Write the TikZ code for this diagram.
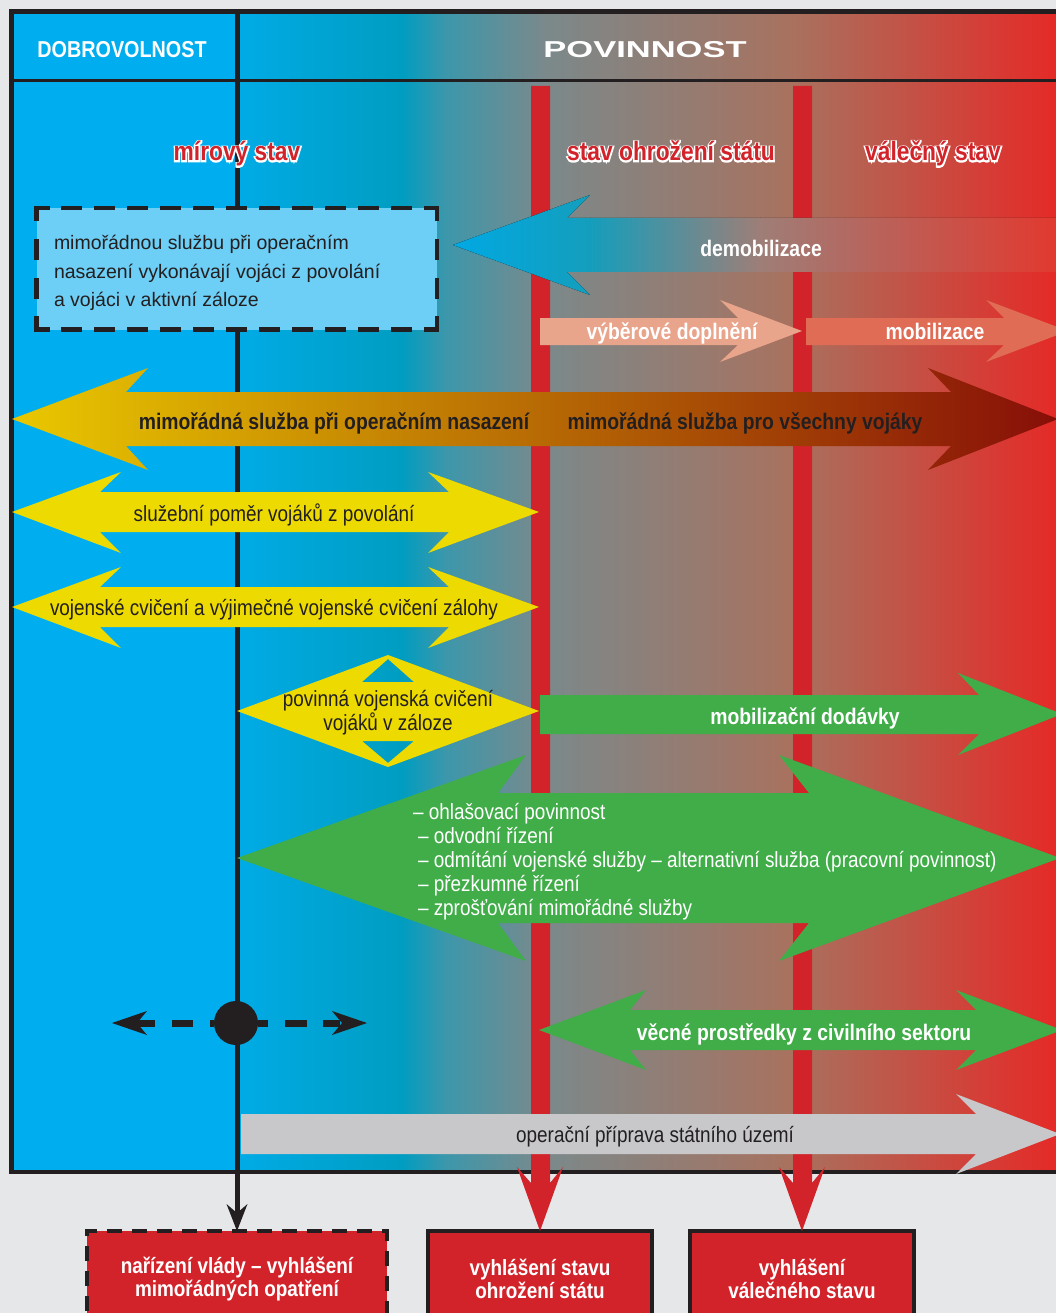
\documentclass[tikz,border=0pt]{standalone}
\usepackage{fontspec}
\setmainfont{Liberation Sans}
\newfontfamily\cond{Liberation Sans}[FakeStretch=0.86]
\newfontfamily\condol{Liberation Sans}[FakeStretch=0.86,FakeBold=11]
\newfontfamily\widef{Liberation Sans}[FakeStretch=1.5]
\definecolor{bgg}{HTML}{E6E7E8}
\definecolor{cyn}{HTML}{00AEEF}
\definecolor{g0}{HTML}{00ABE6}
\definecolor{g1}{HTML}{009DC1}
\definecolor{g2}{HTML}{3C97AB}
\definecolor{g3}{HTML}{7B898B}
\definecolor{g4}{HTML}{A8725F}
\definecolor{g5}{HTML}{E52A27}
\definecolor{d0}{HTML}{00A9E4}
\definecolor{d1}{HTML}{149EBC}
\definecolor{d2}{HTML}{9E7E77}
\definecolor{d3}{HTML}{E2392F}
\definecolor{redc}{HTML}{D2232A}
\definecolor{boxblue}{HTML}{6DCFF6}
\definecolor{yel}{HTML}{EDDA00}
\definecolor{grn}{HTML}{40AD49}
\definecolor{salm}{HTML}{E9A48C}
\definecolor{coral}{HTML}{E06C55}
\definecolor{gry}{HTML}{C8C8CA}
\definecolor{txt}{HTML}{231F20}
\definecolor{ya}{HTML}{E9C800}
\definecolor{yb}{HTML}{BA7A17}
\definecolor{yc}{HTML}{870E08}
\tikzset{
  every node/.style={inner sep=0pt, outer sep=0pt},
  tx/.style={yshift=-2pt},
  wb/.style={tx, font=\cond\bfseries\fontsize{22.5}{24}\selectfont, text=white},
  db/.style={tx, font=\cond\bfseries\fontsize{22.5}{24}\selectfont, text=txt},
  dr/.style={tx, font=\cond\fontsize{22}{24}\selectfont, text=txt},
  wr/.style={tx, font=\cond\fontsize{22}{24}\selectfont, text=white},
  wbx/.style={font=\cond\bfseries\fontsize{22}{23}\selectfont, text=white, align=center},
  labol/.style={anchor=base, font=\condol\bfseries\fontsize{26.5}{28}\selectfont, text=white},
  lab/.style={anchor=base, font=\cond\bfseries\fontsize{26.5}{28}\selectfont, text=redc},
  bbox/.style={draw=txt, line width=4.5pt, fill=redc},
  dashside/.style={draw=txt, line width=4.5pt, line cap=rect},
}
\newcommand\outl[4]{%
  \node[labol] (#1o) at (#2,#3) {#4};
  \node[lab] (#1) at (#2,#3) {#4};}
\begin{document}
\begin{tikzpicture}[x=1pt,y=-1pt]
\clip (0,0) rectangle (1056,1313);
\fill[bgg] (0,0) rectangle (1056,1313);
% background columns
\fill[cyn] (12,12) rectangle (237,1172);
\fill[left color=g0,right color=g1] (236,12) rectangle (402.5,1172);
\fill[left color=g1,right color=g2] (402,12) rectangle (445.5,1172);
\fill[left color=g2,right color=g3] (445,12) rectangle (545.5,1172);
\fill[left color=g3,right color=g4] (545,12) rectangle (790.5,1172);
\fill[left color=g4,right color=g5] (790,12) rectangle (1057,1172);
% frame
\draw[line width=4.7pt, txt] (11.7,11.7) rectangle (1090,1172);
\draw[line width=3.5pt, txt] (11.7,80.5) -- (1090,80.5);
% bottom boxes
\node[bbox, dash pattern=on 15pt off 10pt, minimum width=300pt, minimum height=110pt, anchor=north] (b1) at (237,1231) {};
\node[bbox, minimum width=224pt, minimum height=110pt, anchor=north] (b2) at (540,1231) {};
\node[bbox, minimum width=224pt, minimum height=110pt, anchor=north] (b3) at (802,1231) {};
\node[wbx] (b1t) at (237,1279) {nařízení vlády – vyhlášení\\mimořádných opatření};
\node[wbx] (b2t) at (540,1279) {vyhlášení stavu\\ohrožení státu};
\node[wbx] (b3t) at (802,1279) {vyhlášení\\válečného stavu};
% black vertical line with arrow
\draw[line width=5pt, txt] (237,11) -- (237,1214);
\fill[txt] (b1.north) -- (226.5,1204) -- (237,1213) -- (247.5,1204) -- cycle;
% red bars with arrows
\fill[redc] (531,86) -- (550,86) -- (550,1183) -- (563,1167) -- (b2.north) -- (517,1167) -- (531,1183) -- cycle;
\fill[redc] (793,86) -- (812,86) -- (812,1183) -- (825,1167) -- (b3.north) -- (779,1167) -- (793,1183) -- cycle;
% header
\node[font=\cond\bfseries\fontsize{23}{24}\selectfont, text=white] (dobr) at (122,50) {DOBROVOLNOST};
\node[font=\widef\bfseries\fontsize{23}{24}\selectfont, text=white] (povi) at (645,50) {POVINNOST};
% state labels
\outl{mir}{237}{161}{mírový stav}
\outl{ohr}{671}{161}{stav ohrožení státu}
\outl{val}{933}{161}{válečný stav}
% info box
\fill[boxblue] (36.5,208) rectangle (437,329.5);
\draw[dashside, dash pattern=on 16.5pt off 16.46pt, dash phase=5.75pt] (36.5,208) -- (437,208);
\draw[dashside, dash pattern=on 16.5pt off 16.46pt, dash phase=5.75pt] (36.5,329.5) -- (437,329.5);
\draw[dashside, dash pattern=on 16.5pt off 22.3pt, dash phase=5.75pt] (36.5,208) -- (36.5,329.5);
\draw[dashside, dash pattern=on 16.5pt off 22.3pt, dash phase=5.75pt] (437,208) -- (437,329.5);
\node[tx, font=\fontsize{19.5}{28.5}\selectfont, text=txt, align=left, anchor=west] (info) at (54,271) {mimořádnou službu při operačním\\nasazení vykonávají vojáci z povolání\\a vojáci v aktivní záloze};
% demobilizace
\begin{scope}
\clip (453,245) -- (590,195) -- (567,218) -- (1070,218) -- (1070,272) -- (567,272) -- (590,295) -- cycle;
\fill[left color=d0,right color=d1] (450,190) rectangle (590.5,300);
\fill[left color=d1,right color=d2] (590,190) rectangle (760.5,300);
\fill[left color=d2,right color=d3] (760,190) rectangle (1057,300);
\end{scope}
\node[wb] (demob) at (761,246) {demobilizace};
% vyberove doplneni, mobilizace
\fill[salm] (540,318) -- (738,318) -- (720,300) -- (802,331) -- (720,362) -- (738,345) -- (540,345) -- cycle;
\node[wb] (vyber) at (672,331) {výběrové doplnění};
\fill[coral] (806,318) -- (1004,318) -- (986,300) -- (1068,331) -- (986,362) -- (1004,345) -- (806,345) -- cycle;
\node[wb] (mobil) at (935,329) {mobilizace};
% big arrow
\shade[left color=ya, middle color=yb, right color=yc] (12,419) -- (148,368) -- (126,392) -- (951,392) -- (928,368) -- (1058,419) -- (928,470) -- (951,446) -- (126,446) -- (148,470) -- cycle;
\node[db] (mos1) at (334,421) {mimořádná služba při operačním nasazení};
\node[db] (mos2) at (745,421) {mimořádná služba pro všechny vojáky};
% yellow double arrows
\fill[yel] (12,512) -- (121,472) -- (100,492) -- (449,492) -- (428,472) -- (539,512) -- (428,553) -- (449,532) -- (100,532) -- (121,553) -- cycle;
\node[dr] (slp) at (274,513) {služební poměr vojáků z povolání};
\fill[yel] (12,607) -- (121,567) -- (100,587) -- (449,587) -- (428,567) -- (539,607) -- (428,648) -- (449,627) -- (100,627) -- (121,648) -- cycle;
\node[dr] (vc) at (274,608) {vojenské cvičení a výjimečné vojenské cvičení zálohy};
% diamond
\fill[yel, even odd rule] (237,711) -- (388,655) -- (539,711) -- (388,767) -- cycle
  (388,659) -- (362,682) -- (414,682) -- cycle
  (388,763) -- (362,741) -- (414,741) -- cycle;
\node[dr, align=center] (pov) at (388,711) {povinná vojenská cvičení\\vojáků v záloze};
% mobilizacni dodavky
\fill[grn] (540,695) -- (979,695) -- (958,673) -- (1062,714) -- (958,755) -- (979,734) -- (540,734) -- cycle;
\node[wb] (mobd) at (805,716) {mobilizační dodávky};
% big green
\fill[grn] (237,858) -- (526,755) -- (498,793) -- (809,793) -- (779,755) -- (1060,858) -- (779,961) -- (809,923) -- (498,923) -- (526,961) -- cycle;
\node[wr, align=left, anchor=west] (list) at (413,860) {– ohlašovací povinnost\\\hspace*{5pt}– odvodní řízení\\\hspace*{5pt}– odmítání vojenské služby – alternativní služba (pracovní povinnost)\\\hspace*{5pt}– přezkumné řízení\\\hspace*{5pt}– zprošťování mimořádné služby};
% vecne prostredky
\fill[grn] (539,1030) -- (646,990) -- (630,1010) -- (976,1010) -- (956,990) -- (1062,1030) -- (956,1070) -- (976,1050) -- (630,1050) -- (646,1070) -- cycle;
\node[wb] (vec) at (804,1032) {věcné prostředky z civilního sektoru};
% operacni priprava
\fill[gry] (241,1114) -- (976,1114) -- (956,1094) -- (1060,1134) -- (956,1174) -- (976,1154) -- (241,1154) -- cycle;
\node[dr] (opp) at (655,1135) {operační příprava státního území};
% dashed double arrow with dot
\node[circle, fill=txt, minimum size=44pt] (dot) at (236,1023) {};
\draw[txt, line width=7pt] (210,1023) -- (dot.west) (dot.east) -- (268,1023);
\draw[txt, line width=7pt] (172,1023) -- (193,1023) (285,1023) -- (307,1023);
\draw[txt, line width=7pt] (136,1023) -- (155,1023) (323,1023) -- (340,1023);
\fill[txt] (112,1023) -- (147,1011) -- (137,1023) -- (147,1035) -- cycle;
\fill[txt] (367,1023) -- (332,1011) -- (342,1023) -- (332,1035) -- cycle;
\end{tikzpicture}
\end{document}
